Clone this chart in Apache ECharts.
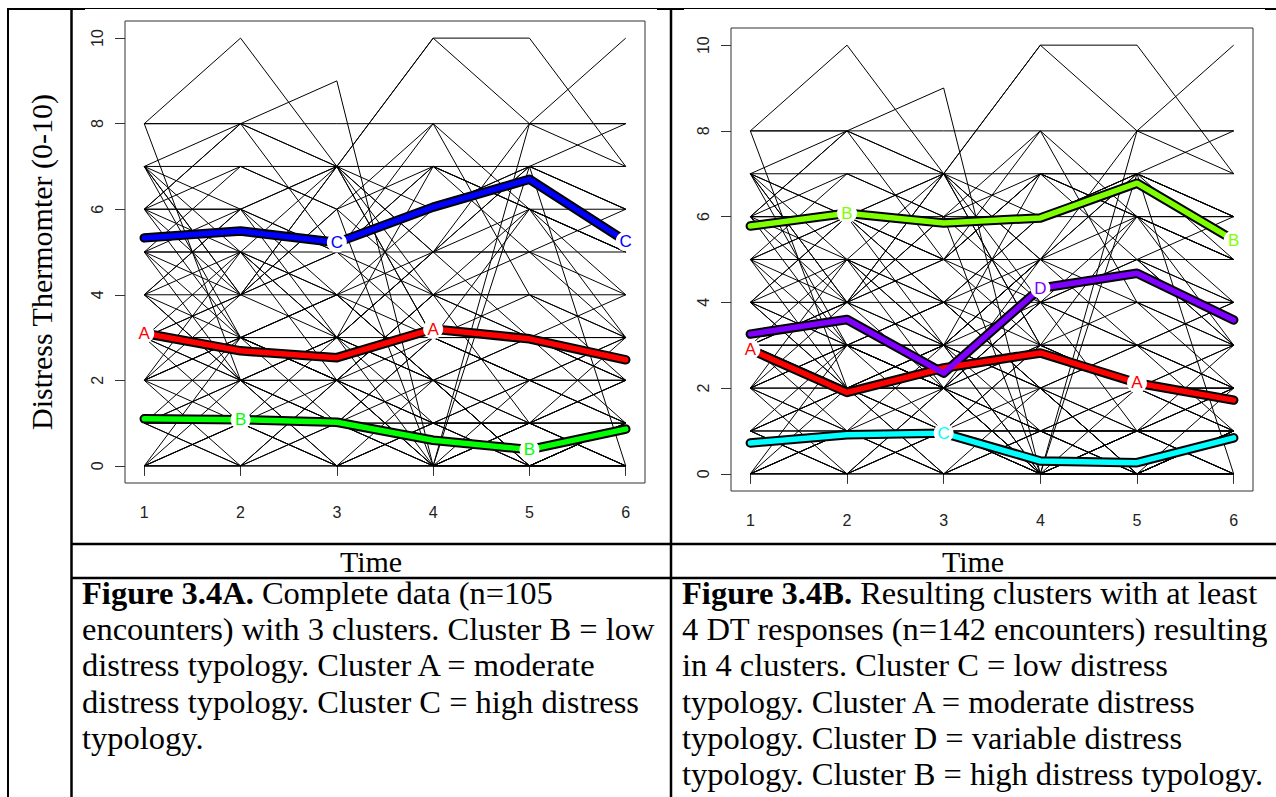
<!DOCTYPE html>
<html><head><meta charset="utf-8">
<script src="https://cdn.jsdelivr.net/npm/echarts@6/dist/echarts.min.js"></script>
<style>html,body{margin:0;padding:0;background:#fff;} #c{width:1276px;height:797px;}</style>
</head><body><div id="c"></div>
<script>
// ---------- data ----------
const times = [1, 2, 3, 4, 5, 6];
const yTicks = [0, 2, 4, 6, 8, 10];

// individual trajectories (Distress Thermometer at times 1..6), panel A
const trajA = [
  [8,8,8,8,8,8],[7,7,7,7,7,8],[6,6,7,5,6,6],[5,5,5,5,5,5],[4,4,4,4,4,4],
  [3,3,3,3,3,3],[2,2,2,2,2,2],[1,1,1,1,1,1],[0,0,0,0,0,0],
  [8,10,7,10,10,7],[7,8,9,0,1,2],[4,6,7,10,8,10],[8,8,7,6,7,7],[8,2,3,2,0,1],
  [7,6,4,3,3,2],[7,5,7,5,3,3],[6,7,6,7,6,5],[6,8,5,8,4,3],[7,4,5,7,5,6],
  [6,4,5,7,6,5],[5,3,4,6,7,6],[4,2,3,5,5,3],[3,5,2,4,6,3],[2,4,3,1,2,1],
  [0,1,0,0,0,0],[1,0,1,0,0,1],[2,0,2,1,0,0],[0,2,1,0,1,1],[1,2,0,1,0,0],
  [0,0,2,0,0,1],[2,1,0,2,0,0],[3,2,2,0,1,0],[4,3,2,3,2,3],[3,3,2,4,3,2],
  [5,6,5,4,3,4],[6,5,4,5,7,6],[7,4,7,3,6,5],[6,8,7,4,4,3],[5,7,6,8,6,5],
  [4,6,5,3,4,2],[2,3,4,2,3,2],[1,3,1,3,2,1],[3,1,3,2,1,0],[0,3,2,4,1,1],
  [2,5,3,7,6,4],[4,5,3,0,1,2],[1,1,0,0,0,1],[0,1,1,1,0,0],[6,6,3,5,8,7],
  [5,4,6,4,5,4],[3,4,7,3,2,3],[2,3,3,5,7,6],[1,2,3,2,0,1],[7,3,2,1,1,2],
  [4,2,0,1,2,2],[6,3,4,2,3,1],[5,2,1,3,2,2],[0,0,1,2,1,0],[2,3,2,0,8,8],
  [3,4,6,0,7,0],[1,0,0,1,1,0],[0,1,2,1,1,3],[5,5,4,2,0,1],[3,2,1,0,2,1]
];
// additional trajectories present in panel B
const trajBExtra = [
  [3,3,2,5,4,4],[1,2,2,0,0,1],[6,6,5,7,7,5],[2,1,1,0,0,0],[4,3,3,5,5,4],
  [0,1,1,0,0,1],[7,6,6,6,7,6],[3,4,3,4,5,3],[1,0,1,1,0,2],[5,6,4,6,6,6],
  [2,2,3,0,1,1],[4,4,2,3,3,4]
];

// cluster mean trajectories, panel A
const meanA_A = [3.10, 2.69, 2.53, 3.20, 2.97, 2.48];
const meanA_B = [1.10, 1.08, 1.02, 0.60, 0.38, 0.86];
const meanA_C = [5.33, 5.49, 5.22, 6.05, 6.70, 5.25];
// cluster mean trajectories, panel B
const meanB_A = [2.90, 1.90, 2.47, 2.82, 2.12, 1.72];
const meanB_B = [5.78, 6.08, 5.85, 5.97, 6.78, 5.45];
const meanB_C = [0.72, 0.91, 0.95, 0.30, 0.26, 0.84];
const meanB_D = [3.26, 3.60, 2.35, 4.33, 4.68, 3.59];

const yLabel = 'Distress Thermomter (0-10)';
const xLabel = 'Time';
const captionA = [
  ['Figure 3.4A.', ' Complete data (n=105'],
  ['', 'encounters) with 3 clusters. Cluster B = low'],
  ['', 'distress typology. Cluster A = moderate'],
  ['', 'distress typology. Cluster C = high distress'],
  ['', 'typology.']
];
const captionB = [
  ['Figure 3.4B.', ' Resulting clusters with at least'],
  ['', '4 DT responses (n=142 encounters) resulting'],
  ['', 'in 4 clusters. Cluster C = low distress'],
  ['', 'typology. Cluster A = moderate distress'],
  ['', 'typology. Cluster D = variable distress'],
  ['', 'typology. Cluster B = high distress typology.']
];

// ---------- build ----------
const SERIF = 'Liberation Serif, Times New Roman, serif';
const SANS = 'Liberation Sans, Arial, sans-serif';

const clustersA = [
  {letter:'A', values:meanA_A, color:'#ff0000', at:[0,3]},
  {letter:'B', values:meanA_B, color:'#00ff00', at:[1,4]},
  {letter:'C', values:meanA_C, color:'#0000ff', at:[2,5]}
];
const clustersB = [
  {letter:'A', values:meanB_A, color:'#ff0000', at:[0,4]},
  {letter:'B', values:meanB_B, color:'#80ff00', at:[1,5]},
  {letter:'C', values:meanB_C, color:'#00ffff', at:[2]},
  {letter:'D', values:meanB_D, color:'#7f00ff', at:[3]}
];

const series = [];
function addPanel(trajs, clusters, idx) {
  trajs.forEach(t => series.push({
    type:'line', xAxisIndex:idx, yAxisIndex:idx, silent:true, symbol:'none', z:2,
    data: t.map((v,i)=>[times[i], v]),
    lineStyle:{color:'#000', width:1}
  }));
  clusters.forEach(c => {
    const d = c.values.map((v,i)=>[times[i], v]);
    series.push({type:'line', xAxisIndex:idx, yAxisIndex:idx, silent:true, symbol:'none', z:3,
      data:d, lineStyle:{color:'#000', width:9.5, cap:'round', join:'round'}});
    series.push({type:'line', xAxisIndex:idx, yAxisIndex:idx, silent:true, symbol:'none', z:4,
      data:d, lineStyle:{color:c.color, width:5.5, cap:'round', join:'round'}});
  });
  clusters.forEach(c => {
    series.push({type:'scatter', xAxisIndex:idx, yAxisIndex:idx, silent:true, z:6,
      symbol:'circle', symbolSize:20,
      data: c.at.map(i => [times[i], c.values[i]]),
      itemStyle:{color:'#fff', opacity:1},
      label:{show:true, position:'inside', formatter:c.letter, color:c.color,
             fontSize:17, fontFamily:SANS}
    });
  });
}
addPanel(trajA, clustersA, 0);
addPanel(trajA.concat(trajBExtra), clustersB, 1);

function xAx(g){ return {gridIndex:g, type:'value', min:0.8, max:6.2,
  axisLine:{show:false}, splitLine:{show:false},
  axisTick:{show:true, customValues:times, length:10, lineStyle:{color:'#333', width:1}},
  axisLabel:{customValues:times, fontSize:16, color:'#222', margin:21, fontFamily:SANS}}; }
function yAx(g){ return {gridIndex:g, type:'value', min:-0.4, max:10.4,
  axisLine:{show:false}, splitLine:{show:false},
  axisTick:{show:true, customValues:yTicks, length:10, lineStyle:{color:'#333', width:1}},
  axisLabel:{customValues:yTicks, fontSize:16, color:'#222', margin:20, rotate:90, fontFamily:SANS}}; }

const graphic = [];
function line(x1,y1,x2,y2,w){ graphic.push({type:'line', silent:true, shape:{x1,y1,x2,y2}, style:{stroke:'#000', lineWidth:w}}); }
// table rules
line(8, 8.5, 1276, 8.5, 1);
line(8, 9, 85, 9, 2); line(657, 9, 684, 9, 2); line(1265, 9, 1276, 9, 2);
line(8, 8, 8, 797, 2);
line(71.5, 8, 71.5, 797, 2.5);
line(671, 8, 671, 797, 2.5);
line(71, 544, 1276, 544, 2.5);
line(71, 578, 1276, 578, 2.5);

// y label
graphic.push({type:'text', x:41, y:262, rotation:Math.PI/2, silent:true,
  style:{text:yLabel, fontSize:30, fontFamily:SERIF, fill:'#000', align:'center', verticalAlign:'middle'}});
// x labels
[371, 973].forEach(cx => graphic.push({type:'text', x:cx, y:561, silent:true,
  style:{text:xLabel, fontSize:30, fontFamily:SERIF, fill:'#000', align:'center', verticalAlign:'middle'}}));

// captions
const CAP = 32.5, LH = 36.2, BASE0 = 604;
function caption(lines, x0){
  lines.forEach((ln, k) => {
    const txt = (ln[0] ? '{b|' + ln[0] + '}' : '') + '{r|' + ln[1] + '}';
    graphic.push({type:'text', x:x0, y:BASE0 + k*LH - 0.34*CAP, silent:true,
      style:{text:txt, align:'left', verticalAlign:'middle', fill:'#000',
        rich:{b:{fontSize:CAP, fontFamily:SERIF, fontWeight:'bold', fill:'#000'},
              r:{fontSize:CAP, fontFamily:SERIF, fill:'#000'}}}});
  });
}
caption(captionA, 82);
caption(captionB, 682);

const chart = echarts.init(document.getElementById('c'), null, {renderer:'svg', width:1276, height:797});
chart.setOption({
  animation:false,
  backgroundColor:'#fff',
  grid:[
    {left:125, top:21, width:520, height:462, show:true, borderColor:'#333', borderWidth:1, backgroundColor:'transparent'},
    {left:731, top:28, width:522, height:463, show:true, borderColor:'#333', borderWidth:1, backgroundColor:'transparent'}
  ],
  xAxis:[xAx(0), xAx(1)],
  yAxis:[yAx(0), yAx(1)],
  series: series,
  graphic: graphic
});
</script></body></html>
